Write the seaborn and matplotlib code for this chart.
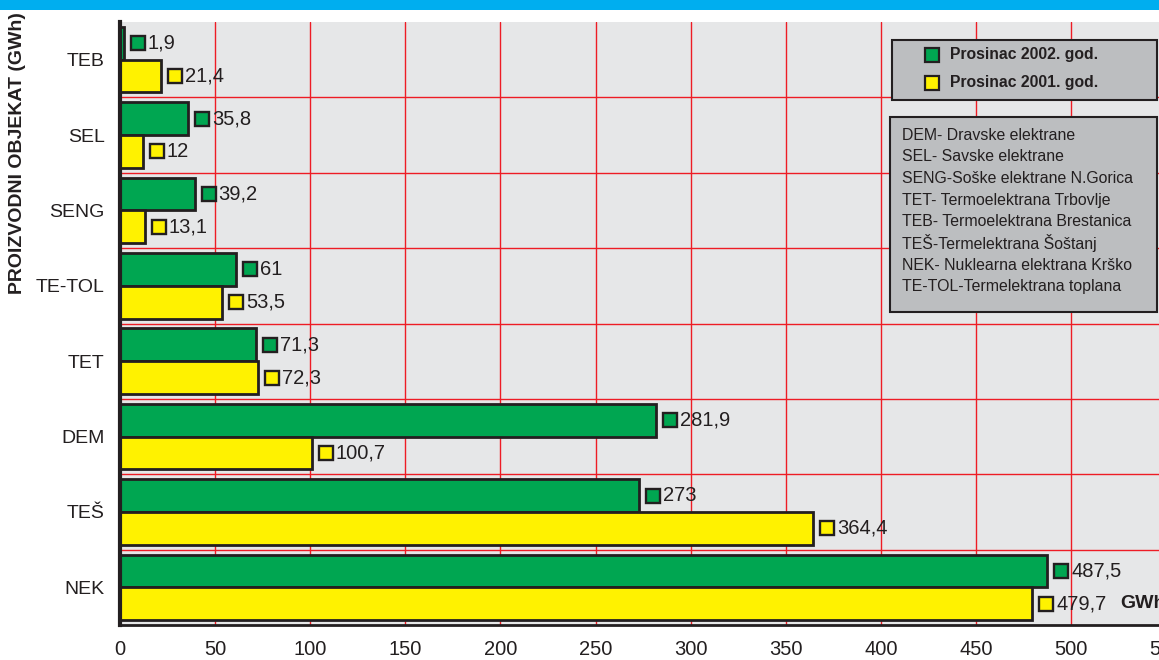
import numpy as np
import pandas as pd
import matplotlib
matplotlib.use("Agg")
import matplotlib.pyplot as plt
import seaborn as sns
from matplotlib.patches import Rectangle

# =====================================
# DATA
# =====================================

objects = ["TEB", "SEL", "SENG", "TE-TOL", "TET", "DEM", "TEŠ", "NEK"]
dec_2002 = [1.9, 35.8, 39.2, 61, 71.3, 281.9, 273, 487.5]
dec_2001 = [21.4, 12, 13.1, 53.5, 72.3, 100.7, 364.4, 479.7]
series = ["Prosinac 2002. god.", "Prosinac 2001. god."]
x_ticks = [0, 50, 100, 150, 200, 250, 300, 350, 400, 450, 500, 550]
info_lines = [
    "DEM- Dravske elektrane",
    "SEL- Savske elektrane",
    "SENG-Soške elektrane N.Gorica",
    "TET- Termoelektrana Trbovlje",
    "TEB- Termoelektrana Brestanica",
    "TEŠ-Termelektrana Šoštanj",
    "NEK- Nuklearna elektrana Krško",
    "TE-TOL-Termelektrana toplana",
]

df = pd.DataFrame({
    "objekt": objects * 2,
    "GWh": dec_2002 + dec_2001,
    "serija": [series[0]] * len(objects) + [series[1]] * len(objects),
})

GREEN = "#00a651"
YELLOW = "#fff200"
EDGE = "#231f20"
BG = "#e6e7e8"
BOX = "#bcbec0"

sns.set_style("white")
plt.rcParams["font.family"] = ["Liberation Sans", "DejaVu Sans"]

fig = plt.figure(figsize=(11.59, 6.6), dpi=100)
W, H = 1159, 660

# axes in pixel terms: left 120, top 22, bottom 625, 1.902 px per GWh
x_max = 560
px_per = 951 / 500
ax = fig.add_axes([120 / W, (H - 625) / H, x_max * px_per / W, 603 / H])
ax.set_facecolor(BG)

# =====================================
# BARS
# =====================================

sns.barplot(
    data=df,
    y="objekt",
    x="GWh",
    hue="serija",
    hue_order=series,
    order=objects,
    palette=[GREEN, YELLOW],
    orient="h",
    width=0.87,
    edgecolor=EDGE,
    linewidth=2,
    saturation=1,
    legend=False,
    ax=ax,
    zorder=3,
)

# value labels with small square markers
for container, color in zip(ax.containers, [GREEN, YELLOW]):
    for bar in container:
        val = bar.get_width()
        yc = bar.get_y() + bar.get_height() / 2
        ax.plot(val + 14 / px_per, yc, marker="s", markersize=9.8,
                markerfacecolor=color, markeredgecolor=EDGE,
                markeredgewidth=1.7, zorder=4, clip_on=False)
        txt = f"{val:g}".replace(".", ",")
        ax.text(val + 24 / px_per, yc, txt, va="center", ha="left",
                fontsize=14.5, color=EDGE, zorder=4)

# =====================================
# AXES / GRID
# =====================================

ax.set_xlim(0, x_max)
ax.set_ylim(len(objects) - 0.5, -0.5)
ax.set_xticks(x_ticks)
ax.set_xticklabels([str(t) for t in x_ticks], fontsize=14.5, color=EDGE)
ax.set_yticks(range(len(objects)))
ax.set_yticklabels(objects, fontsize=14, color=EDGE)
ax.set_yticks(np.arange(len(objects) + 1) - 0.5, minor=True)
ax.tick_params(axis="y", which="major", length=0, pad=11)
ax.tick_params(axis="y", which="minor", length=7, width=2, color=EDGE)
ax.tick_params(axis="x", which="major", length=0, pad=11)
ax.set_xlabel("")
ax.set_ylabel("")

for t in x_ticks[1:]:
    ax.axvline(t, color="#ee1c25", linewidth=1, zorder=1)
for b in np.arange(1, len(objects)) - 0.5:
    ax.axhline(b, color="#ee1c25", linewidth=1, zorder=1)

for s in ["top", "right"]:
    ax.spines[s].set_visible(False)
ax.spines["left"].set_color(EDGE)
ax.spines["left"].set_linewidth(3)
ax.spines["left"].set_zorder(5)
ax.spines["bottom"].set_color(EDGE)
ax.spines["bottom"].set_linewidth(2)

# =====================================
# LEGEND AND INFO BOX
# =====================================

fig.patches.append(Rectangle(
    (892 / W, 1 - 100 / H), (1157 - 892) / W, (100 - 40) / H,
    transform=fig.transFigure, facecolor=BOX, edgecolor=EDGE,
    linewidth=1.5, zorder=5,
))
for i, (name, color) in enumerate(zip(series, [GREEN, YELLOW])):
    yy = 1 - (55 + i * 28) / H
    fig.patches.append(Rectangle(
        (925 / W, yy - 7 / H), 14 / W, 14 / H,
        transform=fig.transFigure, facecolor=color, edgecolor=EDGE,
        linewidth=1.6, zorder=6,
    ))
    fig.text(950 / W, yy, name, fontsize=11.3, fontweight="bold",
             color=EDGE, va="center", ha="left", zorder=6)

fig.patches.append(Rectangle(
    (890 / W, 1 - 312 / H), (1157 - 890) / W, (312 - 117) / H,
    transform=fig.transFigure, facecolor=BOX, edgecolor=EDGE,
    linewidth=1.5, zorder=5,
))
for i, line in enumerate(info_lines):
    fig.text(902 / W, 1 - (135 + i * 21.7) / H, line, fontsize=11.4,
             color=EDGE, va="center", ha="left", zorder=6)

# top blue strip
fig.patches.append(Rectangle((0, 1 - 10 / H), 1, 10 / H,
                             transform=fig.transFigure,
                             facecolor="#00aeef", edgecolor="none", zorder=10))

fig.text(18 / W, 1 - 153 / H, "PROIZVODNI OBJEKAT (GWh)", rotation=90,
         fontsize=14, fontweight="bold", color=EDGE,
         ha="center", va="center")
fig.text(1120 / W, 1 - 603 / H, "GWh", fontsize=14, fontweight="bold",
         color=EDGE, ha="left", va="center")

fig.savefig("out.png", dpi=100)
plt.close()
